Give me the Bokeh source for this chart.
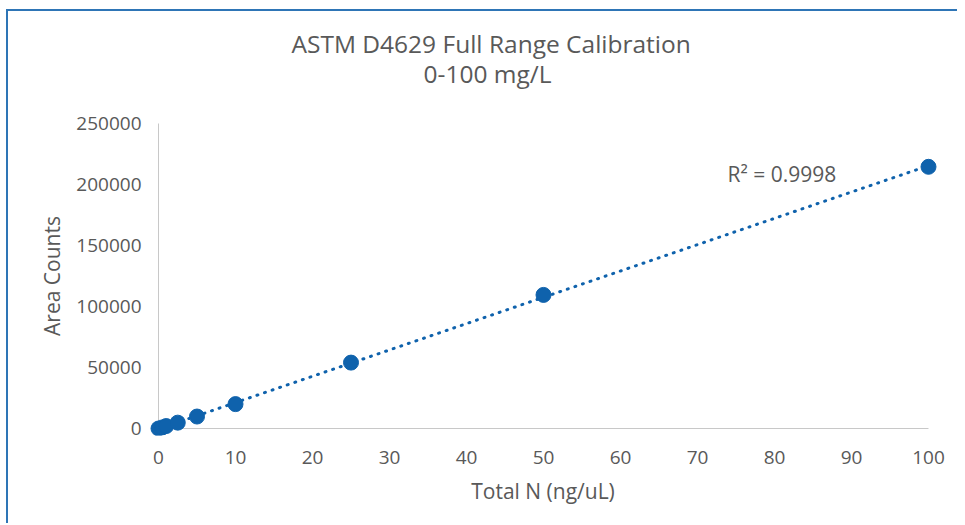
import numpy as np
from bokeh.plotting import figure
from bokeh.models import Range1d, Label, FixedTicker, Title
from bokeh.embed import file_html
from bokeh.resources import INLINE

# Data
conc = [0, 0.5, 1, 2.5, 5, 10, 25, 50, 100]
area = [0, 900, 2000, 4800, 9800, 20000, 54000, 109500, 214500]
x_ticks = [0, 10, 20, 30, 40, 50, 60, 70, 80, 90, 100]
y_ticks = [0, 50000, 100000, 150000, 200000, 250000]
title_line1 = "ASTM D4629 Full Range Calibration"
title_line2 = "0-100 mg/L"
r2_text = "R\u00b2 = 0.9998"
x_title = "Total N (ng/uL)"
y_title = "Area Counts"

FONT = "Open Sans"
TXT = "#595959"
BLUE = "#0F62AC"
AXIS = "#c8c8c8"

p = figure(
    frame_width=793, frame_height=319,
    min_border_left=138, min_border_right=18,
    min_border_top=105, min_border_bottom=88,
    x_range=Range1d(-1.56, 101.43), y_range=Range1d(-5738, 255738),
    output_backend="svg", toolbar_location=None,
)
p.margin = (9, 0, 0, 6)
p.styles = {"border-left": "2px solid #2E75B6", "border-top": "2px solid #2E75B6"}
p.outline_line_color = None
p.xgrid.grid_line_color = None
p.ygrid.grid_line_color = None
p.background_fill_color = "white"
p.border_fill_color = "white"

for ax in (p.xaxis[0], p.yaxis[0]):
    ax.axis_line_color = None
    ax.major_tick_line_color = None
    ax.minor_tick_line_color = None
    ax.major_tick_out = 0
    ax.major_tick_in = 0
    ax.major_label_text_font = FONT
    ax.major_label_text_font_size = "19px"
    ax.major_label_text_color = TXT
    ax.axis_label_text_font = FONT
    ax.axis_label_text_font_size = "21px"
    ax.axis_label_text_font_style = "normal"
    ax.axis_label_text_color = TXT

p.xaxis[0].ticker = FixedTicker(ticks=x_ticks)
p.yaxis[0].ticker = FixedTicker(ticks=y_ticks)
p.xaxis[0].axis_label = x_title
p.yaxis[0].axis_label = y_title
p.xaxis[0].major_label_standoff = 15
p.yaxis[0].major_label_standoff = 5
p.xaxis[0].axis_label_standoff = 10
p.yaxis[0].axis_label_standoff = 7
p.yaxis[0].formatter.use_scientific = False

# Axis lines at zero (drawn as glyphs so they sit at data 0)
p.line([x_ticks[0], x_ticks[-1]], [y_ticks[0], y_ticks[0]], line_color=AXIS, line_width=1)
p.line([x_ticks[0], x_ticks[0]], [y_ticks[0], y_ticks[-1]], line_color=AXIS, line_width=1)

# Linear trendline
slope, intercept = np.polyfit(conc, area, 1)
tx = [x_ticks[0], x_ticks[-1]]
ty = [slope * v + intercept for v in tx]
p.line(tx, ty, line_color=BLUE, line_width=3, line_dash="1 7", line_cap="round")

p.scatter(conc, area, size=15, fill_color=BLUE, line_color=BLUE)

p.add_layout(Label(x=73.9, y=208800, text=r2_text, text_font=FONT,
                   text_font_size="21px", text_color=TXT,
                   text_align="left", text_baseline="alphabetic"))

# Chart title: spacer nearest the frame, then line 2, then line 1
p.add_layout(Title(text=" ", align="left", offset=0, standoff=16,
                   text_font=FONT, text_font_size="10px", text_color=TXT), "above")
p.add_layout(Title(text=title_line2, align="left", offset=277, standoff=-10,
                   text_font=FONT, text_font_size="24.5px", text_color=TXT,
                   text_font_style="normal"), "above")
p.add_layout(Title(text=title_line1, align="left", offset=145, standoff=0,
                   text_font=FONT, text_font_size="24.5px", text_color=TXT,
                   text_font_style="normal"), "above")

open("out.html", "w").write(file_html(p, INLINE))
